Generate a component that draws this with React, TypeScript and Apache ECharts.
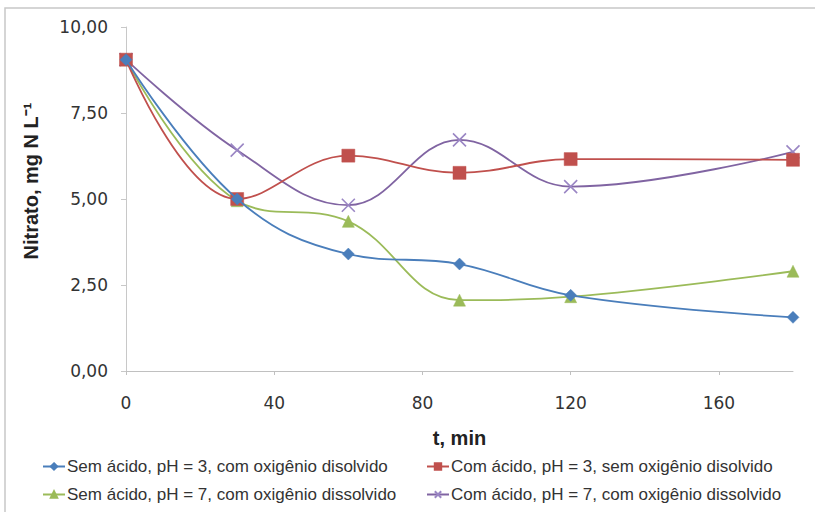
import React, { useEffect, useRef } from "react";
import * as echarts from "echarts";

const times = [0, 30, 60, 90, 120, 180];
const serieNames = [
  "Sem ácido, pH = 3, com oxigênio disolvido",
  "Com ácido, pH = 3, sem oxigênio disolvido",
  "Sem ácido, pH = 7, com oxigênio dissolvido",
  "Com ácido, pH = 7, com oxigênio dissolvido",
];
const semAcidoPh3 = [9.05, 5.0, 3.4, 3.11, 2.2, 1.56];
const comAcidoPh3 = [9.05, 5.0, 6.26, 5.76, 6.16, 6.14];
const semAcidoPh7 = [9.05, 4.95, 4.35, 2.06, 2.16, 2.9];
const comAcidoPh7 = [9.05, 6.42, 4.82, 6.72, 5.36, 6.37];
const xTicks = [0, 40, 80, 120, 160];
const yTicks = [0, 2.5, 5, 7.5, 10];
const xTitle = "t, min";
const yTitle = "Nitrato, mg N L⁻¹";

const colors = ["#4a7ebb", "#c0504d", "#9bbb59", "#8064a2"];
const xSymbol = "path://M0,0L10,10M10,0L0,10";

function pairs(vals: number[]) {
  return times.map((t, i) => [t, vals[i]]);
}

export default function App() {
  const ref = useRef<HTMLDivElement>(null);
  useEffect(() => {
    if (!ref.current) return;
    const chart = echarts.init(ref.current, null, { renderer: "svg" });
    const allVals = [semAcidoPh3, comAcidoPh3, semAcidoPh7, comAcidoPh7];
    const symbols = ["diamond", "rect", "triangle", xSymbol];
    const sizes = [12, 13, 12, 13];
    const legendPos = [
      { left: 42, top: 458 },
      { left: 426, top: 458 },
      { left: 42, top: 486 },
      { left: 426, top: 486 },
    ];
    const option: any = {
      animation: false,
      backgroundColor: "#ffffff",
      textStyle: { fontFamily: "Liberation Sans, Arial, sans-serif" },
      graphic: [
        {
          type: "rect",
          shape: { x: 5, y: 8, width: 830, height: 520 },
          style: { fill: "none", stroke: "#c8c8c8", lineWidth: 1.5 },
          silent: true,
        },
        {
          type: "text",
          x: 31,
          y: 181,
          rotation: Math.PI / 2,
          style: {
            text: yTitle,
            fontSize: 20,
            fontWeight: "bold",
            fontFamily: "Liberation Sans, Arial, sans-serif",
            fill: "#222",
            align: "center",
            verticalAlign: "middle",
          },
          silent: true,
        },
      ],
      grid: { left: 126, right: 22, top: 27, bottom: 141, containLabel: false },
      xAxis: {
        type: "value",
        min: 0,
        max: 180,
        interval: 40,
        name: xTitle,
        nameLocation: "middle",
        nameGap: 57,
        nameTextStyle: { fontSize: 20, fontWeight: "bold", color: "#222" },
        axisLine: { show: true, lineStyle: { color: "#c0c0c0", width: 1 } },
        axisTick: { show: true, length: 4, lineStyle: { color: "#c0c0c0" } },
        axisLabel: {
          fontSize: 17,
          fontFamily: "DejaVu Sans, sans-serif",
          color: "#333",
          margin: 23,
          showMaxLabel: false,
          formatter: (v: number) => (xTicks.includes(v) ? String(v) : ""),
        },
        splitLine: { show: false },
      },
      yAxis: {
        type: "value",
        min: 0,
        max: 10,
        interval: 2.5,
        axisLine: { show: true, lineStyle: { color: "#c8c8c8", width: 1 } },
        axisTick: { show: true, length: 5, lineStyle: { color: "#c8c8c8" } },
        axisLabel: {
          fontSize: 17,
          fontFamily: "DejaVu Sans, sans-serif",
          color: "#333",
          margin: 18,
          formatter: (v: number) =>
            yTicks.includes(v) ? v.toFixed(2).replace(".", ",") : "",
        },
        splitLine: { show: false },
      },
      legend: serieNames.map((n, i) => ({
        data: [n],
        left: legendPos[i].left,
        top: legendPos[i].top,
        itemWidth: 22,
        itemHeight: 8,
        itemGap: 2,
        padding: 0,
        textStyle: { fontSize: 17, color: "#333", padding: [0, 0, 0, -3] },
      })),
      series: serieNames.map((n, i) => ({
        name: n,
        type: "line",
        smooth: 0.4,
        data: pairs(allVals[i]),
        symbol: symbols[i],
        symbolSize: sizes[i],
        showAllSymbol: true,
        lineStyle: { color: colors[i], width: 1.8 },
        itemStyle:
          i === 3
            ? { color: "#a996cc", borderColor: "#9a86c4", borderWidth: 1.6 }
            : { color: colors[i], borderColor: colors[i], borderWidth: 0.5 },
        z: 2 + (3 - i),
      })),
    };
    chart.setOption(option);
    return () => chart.dispose();
  }, []);
  return (
    <div
      ref={ref}
      style={{ position: "fixed", left: 0, top: 0, width: 815, height: 512 }}
    />
  );
}
